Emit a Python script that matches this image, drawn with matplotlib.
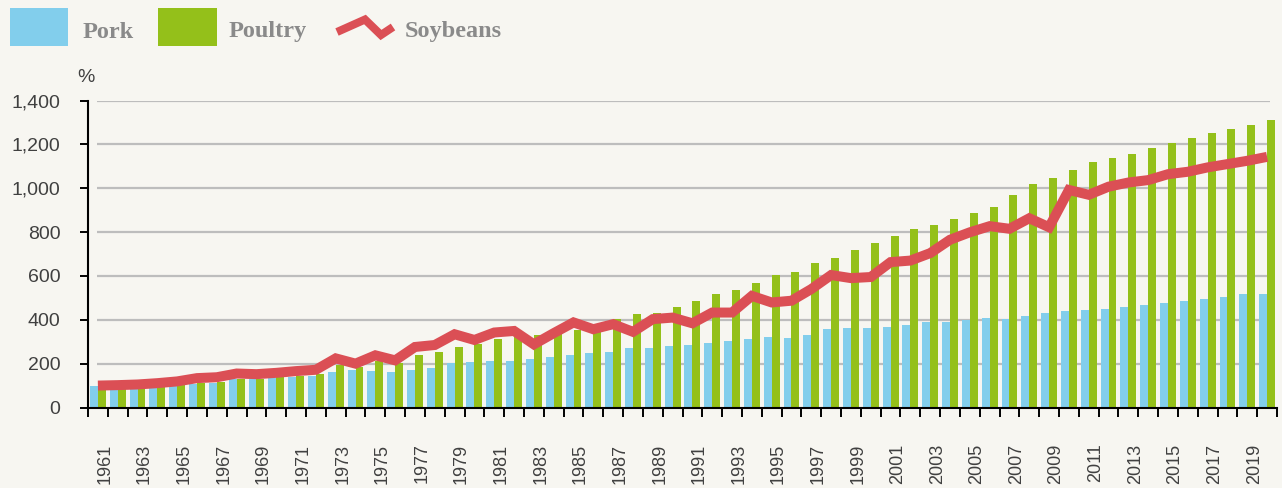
import matplotlib
matplotlib.use("Agg")
import matplotlib.pyplot as plt
import matplotlib.transforms as mtransforms
from matplotlib.patches import Rectangle
from matplotlib.lines import Line2D
from matplotlib.ticker import FuncFormatter, FixedLocator

# ---------------- data ----------------
years = list(range(1961, 2021))

pork = [100, 100, 102, 104, 106, 108, 111, 128, 130, 133,
        140, 145, 161, 170, 166, 161, 170, 180, 202, 207,
        211, 213, 220, 229, 239, 248, 252, 270, 272, 280,
        284, 293, 302, 311, 320, 316, 330, 357, 361, 361,
        366, 375, 389, 389, 398, 407, 402, 416, 430, 439,
        443, 448, 457, 466, 475, 484, 493, 502, 516, 516]

poultry = [100, 101, 104, 107, 110, 112, 117, 130, 131, 139,
           143, 155, 193, 183, 211, 201, 239, 252, 275, 288,
           314, 326, 330, 345, 355, 380, 402, 425, 430, 457,
           484, 516, 534, 566, 602, 616, 657, 680, 716, 752,
           780, 816, 834, 861, 889, 916, 970, 1020, 1048, 1084,
           1120, 1139, 1157, 1184, 1207, 1230, 1252, 1270, 1289, 1311]

soybeans = [100, 102, 105, 111, 119, 134, 138, 155, 152, 158,
            166, 172, 224, 200, 238, 215, 276, 285, 334, 308,
            342, 349, 288, 339, 388, 357, 380, 345, 403, 410,
            384, 433, 433, 509, 479, 487, 540, 604, 590, 595,
            663, 670, 704, 765, 799, 827, 815, 863, 822, 992,
            970, 1007, 1026, 1037, 1064, 1075, 1095, 1110, 1125, 1143]

series_names = ["Pork", "Poultry", "Soybeans"]
y_ticks = [0, 200, 400, 600, 800, 1000, 1200, 1400]
y_unit = "%"

# ---------------- style ----------------
BG = "#F7F6F1"
C_PORK = "#82CEEC"
C_POULTRY = "#94C01A"
C_SOY = "#DB4F55"
C_GRID = "#BDBDBD"
C_TEXT = "#404040"
C_LEG = "#8A8A8A"

W, H = 1282, 488
fig = plt.figure(figsize=(W / 100, H / 100), dpi=100, facecolor=BG)

def fx(px):
    return px / W

def fy(py):
    return 1 - py / H

left, right, top, bottom = 88, 1277, 100.5, 407.5
ax = fig.add_axes([fx(left), fy(bottom), fx(right - left), (bottom - top) / H])
ax.set_facecolor(BG)

n = len(years)
idx = list(range(n))
bw = 0.40
ax.bar([i - 0.2 for i in idx], pork, width=bw, color=C_PORK, zorder=2, linewidth=0)
ax.bar([i + 0.2 for i in idx], poultry, width=bw, color=C_POULTRY, zorder=2, linewidth=0)
ax.plot(idx, soybeans, color=C_SOY, lw=7.2, zorder=3,
        solid_joinstyle="miter", solid_capstyle="butt")

ax.set_xlim(-0.5, n - 0.5)
ax.set_ylim(0, 1400)

# gridlines (Excel-like, slightly inset)
ax.hlines([t for t in y_ticks if t > 0], -0.05, n - 0.85, color=C_GRID, lw=1.6, zorder=1)

for s in ["top", "right"]:
    ax.spines[s].set_visible(False)
for s in ["left", "bottom"]:
    ax.spines[s].set_color("black")
    ax.spines[s].set_linewidth(1.5)
    ax.spines[s].set_zorder(4)

ax.yaxis.set_major_locator(FixedLocator(y_ticks))
ax.yaxis.set_major_formatter(FuncFormatter(lambda v, p: f"{int(v):,}"))
ax.tick_params(axis="y", which="major", direction="out", length=5.8, width=1.4,
               pad=14, labelsize=14, labelcolor=C_TEXT, color="black")

label_idx = list(range(0, n, 2))
ax.set_xticks(label_idx)
ax.set_xticklabels([str(years[i]) for i in label_idx], rotation=90, va="top", ha="center")
ax.set_xticks([i - 0.5 for i in range(n + 1)], minor=True)
ax.tick_params(axis="x", which="major", length=0, pad=26, labelsize=13, labelcolor=C_TEXT)
ax.tick_params(axis="x", which="minor", direction="out", length=6.5, width=1.4, color="black")

for lab in ax.get_yticklabels() + ax.get_xticklabels():
    lab.set_fontfamily(["Liberation Sans", "DejaVu Sans"])

off = mtransforms.ScaledTranslation(5 / 72, 0, fig.dpi_scale_trans)
for lab in ax.get_xticklabels():
    lab.set_transform(lab.get_transform() + off)

fig.text(fx(86), fy(77), y_unit, ha="center", va="center", fontsize=14,
         color=C_TEXT, family=["Liberation Sans", "DejaVu Sans"])

# ---------------- legend ----------------
leg_font = dict(fontsize=17.5, fontweight="bold", color=C_LEG,
                family=["Liberation Serif", "DejaVu Serif"], va="baseline", ha="left")
fig.add_artist(Rectangle((fx(10), fy(46)), fx(58), 38 / H, color=C_PORK,
                         transform=fig.transFigure, lw=0))
fig.text(fx(83), fy(37.5), series_names[0], **leg_font)
fig.add_artist(Rectangle((fx(158), fy(46)), fx(59), 38 / H, color=C_POULTRY,
                         transform=fig.transFigure, lw=0))
fig.text(fx(229), fy(37.5), series_names[1], **leg_font)
fig.add_artist(Line2D([fx(337), fx(365), fx(381), fx(393)],
                      [fy(32), fy(19.5), fy(35), fy(27)],
                      color=C_SOY, lw=5.8, transform=fig.transFigure,
                      solid_joinstyle="miter", solid_capstyle="butt"))
fig.text(fx(405), fy(37.5), series_names[2], **leg_font)

fig.savefig("out.png", dpi=100, facecolor=BG)
